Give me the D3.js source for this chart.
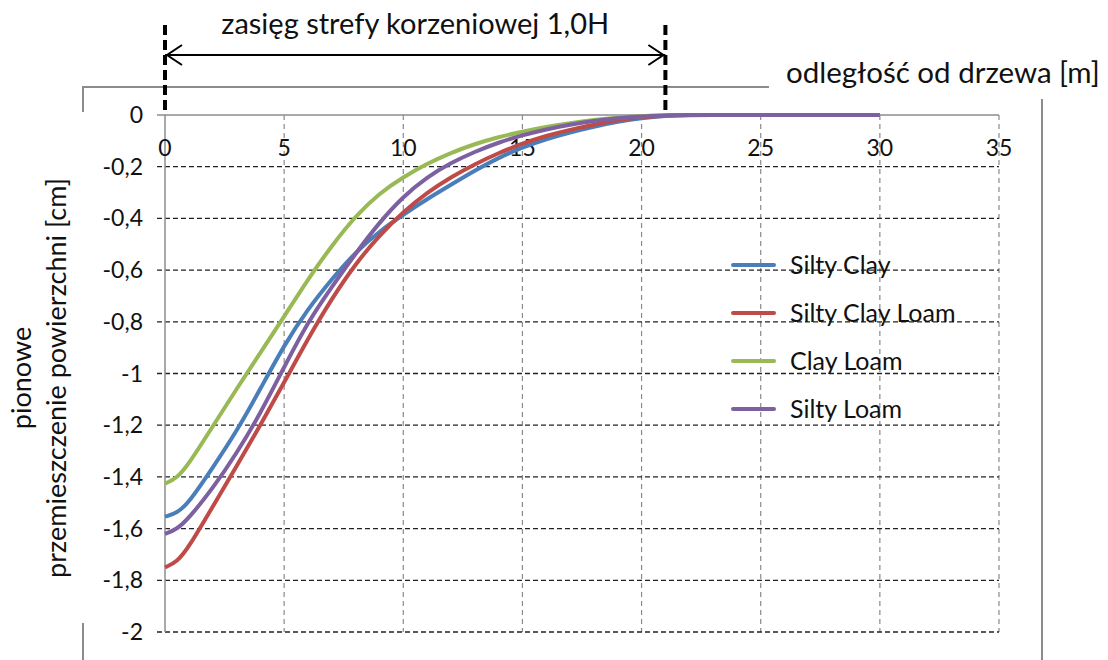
<!DOCTYPE html>
<html>
<head>
<meta charset="utf-8">
<script src="https://cdn.jsdelivr.net/npm/d3@7"></script>
<style>
	body { margin: 0; background: #fff; }
	svg { display: block; font-family: Lato, "Open Sans", sans-serif; }
</style>
</head>
<body>
<div id="chart"></div>
<script>
// odległość od drzewa [m]
const distances = [0, 0.5, 1, 2, 3, 4, 5, 6, 7, 8, 9, 10, 11, 12, 13, 14, 15, 16, 17, 18, 19, 20, 21, 22, 23, 24, 25, 26, 27, 28, 29, 30];

const siltyClay = [-1.554, -1.54, -1.5, -1.365, -1.225, -1.06, -0.89, -0.75, -0.635, -0.53, -0.45, -0.385, -0.325, -0.27, -0.215, -0.165, -0.125, -0.093, -0.067, -0.045, -0.026, -0.011, -0.003, 0, 0, 0, 0, 0, 0, 0, 0, 0];
const siltyClayLoam = [-1.75, -1.73, -1.672, -1.515, -1.36, -1.2, -1.035, -0.865, -0.71, -0.575, -0.465, -0.375, -0.3, -0.24, -0.19, -0.147, -0.11, -0.08, -0.057, -0.037, -0.02, -0.008, -0.002, 0, 0, 0, 0, 0, 0, 0, 0, 0];
const clayLoam = [-1.426, -1.405, -1.35, -1.205, -1.06, -0.92, -0.78, -0.635, -0.505, -0.39, -0.302, -0.24, -0.188, -0.146, -0.112, -0.085, -0.064, -0.046, -0.031, -0.019, -0.01, -0.004, -0.001, 0, 0, 0, 0, 0, 0, 0, 0, 0];
const siltyLoam = [-1.62, -1.603, -1.56, -1.445, -1.31, -1.155, -0.975, -0.8, -0.665, -0.535, -0.415, -0.315, -0.24, -0.185, -0.142, -0.106, -0.078, -0.055, -0.037, -0.023, -0.012, -0.005, -0.001, 0, 0, 0, 0, 0, 0, 0, 0, 0];

const seriesNames = ["Silty Clay", "Silty Clay Loam", "Clay Loam", "Silty Loam"];
const seriesValues = [siltyClay, siltyClayLoam, clayLoam, siltyLoam];
const colors = ["#4a7ebb", "#be4b48", "#98b954", "#7d60a0"];

const xTicks = [0, 5, 10, 15, 20, 25, 30, 35];
const yTicks = [0, -0.2, -0.4, -0.6, -0.8, -1, -1.2, -1.4, -1.6, -1.8, -2];
const yTickLabels = ["0", "-0,2", "-0,4", "-0,6", "-0,8", "-1", "-1,2", "-1,4", "-1,6", "-1,8", "-2"];

const rootZone = [0, 21];
const rootZoneLabel = "zasięg strefy korzeniowej 1,0H";
const xTitle = "odległość od drzewa [m]";
const yTitle = ["pionowe", "przemieszczenie powierzchni [cm]"];

const width = 1108;
const height = 660;

const svg = d3.select("#chart").append("svg")
	.attr("width", width)
	.attr("height", height);

const x = d3.scaleLinear().domain([0, 35]).range([165, 999]);
const y = d3.scaleLinear().domain([-2, 0]).range([632, 115]);

// outer frame (partly hidden behind titles)
const frame = svg.append("g").attr("stroke", "#8c8c8c").attr("stroke-width", 2).attr("fill", "none");
frame.append("path").attr("d", "M83,112V87H769");
frame.append("path").attr("d", "M83,623V660");
frame.append("path").attr("d", "M1042,99V660");

// vertical grid
svg.append("g")
	.selectAll("line")
	.data(xTicks.filter((d) => d > 0))
	.join("line")
	.attr("x1", (d) => x(d))
	.attr("x2", (d) => x(d))
	.attr("y1", y(0))
	.attr("y2", y(-2))
	.attr("stroke", "#8a8a8a")
	.attr("stroke-width", 1.2)
	.attr("stroke-dasharray", "5,4");

// horizontal grid
svg.append("g")
	.selectAll("line")
	.data(yTicks.filter((d) => d < 0))
	.join("line")
	.attr("x1", x(0) - 8)
	.attr("x2", x(35))
	.attr("y1", (d) => y(d))
	.attr("y2", (d) => y(d))
	.attr("stroke", "#222")
	.attr("stroke-width", 1.3)
	.attr("stroke-dasharray", "5,3");

// axes lines
svg.append("line")
	.attr("x1", x(0) - 8).attr("x2", x(35))
	.attr("y1", y(0)).attr("y2", y(0))
	.attr("stroke", "#8c8c8c").attr("stroke-width", 1.5);
svg.append("line")
	.attr("x1", x(0)).attr("x2", x(0))
	.attr("y1", y(0)).attr("y2", y(-2))
	.attr("stroke", "#8c8c8c").attr("stroke-width", 1.5);

// y tick labels
svg.append("g")
	.selectAll("text")
	.data(yTicks)
	.join("text")
	.attr("x", 143)
	.attr("y", (d) => y(d))
	.attr("dy", "0.35em")
	.attr("text-anchor", "end")
	.style("font-size", "23px")
	.style("fill", "#111")
	.text((d, i) => yTickLabels[i]);

// x tick labels
svg.append("g")
	.selectAll("text")
	.data(xTicks)
	.join("text")
	.attr("x", (d) => x(d))
	.attr("y", 148)
	.attr("dy", "0.35em")
	.attr("text-anchor", "middle")
	.style("font-size", "23px")
	.style("fill", "#111")
	.text((d) => d);

// series lines
const line = d3.line()
	.x((d, i) => x(distances[i]))
	.y((d) => y(d))
	.curve(d3.curveBasis);

svg.append("g")
	.selectAll("path")
	.data(seriesValues)
	.join("path")
	.attr("d", line)
	.attr("fill", "none")
	.attr("stroke", (d, i) => colors[i])
	.attr("stroke-width", 4)
	.attr("stroke-linejoin", "round");

// legend
const legend = svg.append("g")
	.selectAll("g")
	.data(seriesNames)
	.join("g")
	.attr("transform", (d, i) => `translate(733,${265 + i * 48})`);
legend.append("line")
	.attr("x1", 0).attr("x2", 41)
	.attr("stroke", (d, i) => colors[i])
	.attr("stroke-width", 4)
	.attr("stroke-linecap", "round");
legend.append("text")
	.attr("x", 57)
	.attr("dy", "0.35em")
	.style("font-size", "25px")
	.style("fill", "#111")
	.text((d) => d);

// root zone markers
svg.append("g")
	.selectAll("line")
	.data(rootZone)
	.join("line")
	.attr("x1", (d) => x(d))
	.attr("x2", (d) => x(d))
	.attr("y1", 25)
	.attr("y2", y(0))
	.attr("stroke", "#000")
	.attr("stroke-width", 4)
	.attr("stroke-dasharray", "10,5");

const arrowY = 55;
svg.append("line")
	.attr("x1", x(rootZone[0])).attr("x2", x(rootZone[1]))
	.attr("y1", arrowY).attr("y2", arrowY)
	.attr("stroke", "#000").attr("stroke-width", 2);
svg.append("path")
	.attr("d", `M${x(rootZone[0]) + 17},${arrowY - 10}L${x(rootZone[0]) + 2},${arrowY}L${x(rootZone[0]) + 17},${arrowY + 10}`)
	.attr("fill", "none").attr("stroke", "#000").attr("stroke-width", 2);
svg.append("path")
	.attr("d", `M${x(rootZone[1]) - 17},${arrowY - 10}L${x(rootZone[1]) - 2},${arrowY}L${x(rootZone[1]) - 17},${arrowY + 10}`)
	.attr("fill", "none").attr("stroke", "#000").attr("stroke-width", 2);

svg.append("text")
	.attr("x", (x(rootZone[0]) + x(rootZone[1])) / 2)
	.attr("y", 24)
	.attr("dy", "0.35em")
	.attr("text-anchor", "middle")
	.style("font-size", "29px")
	.style("fill", "#111")
	.text(rootZoneLabel);

// axis titles
svg.append("text")
	.attr("x", 786)
	.attr("y", 73)
	.attr("dy", "0.35em")
	.style("font-size", "29.5px")
	.style("fill", "#111")
	.text(xTitle);

svg.append("g")
	.attr("transform", "translate(39,378) rotate(-90)")
	.selectAll("text")
	.data(yTitle)
	.join("text")
	.attr("x", 0)
	.attr("y", (d, i) => (i - 0.5) * 35)
	.attr("dy", "0.35em")
	.attr("text-anchor", "middle")
	.style("font-size", "27px")
	.style("fill", "#111")
	.text((d) => d);
</script>
</body>
</html>
